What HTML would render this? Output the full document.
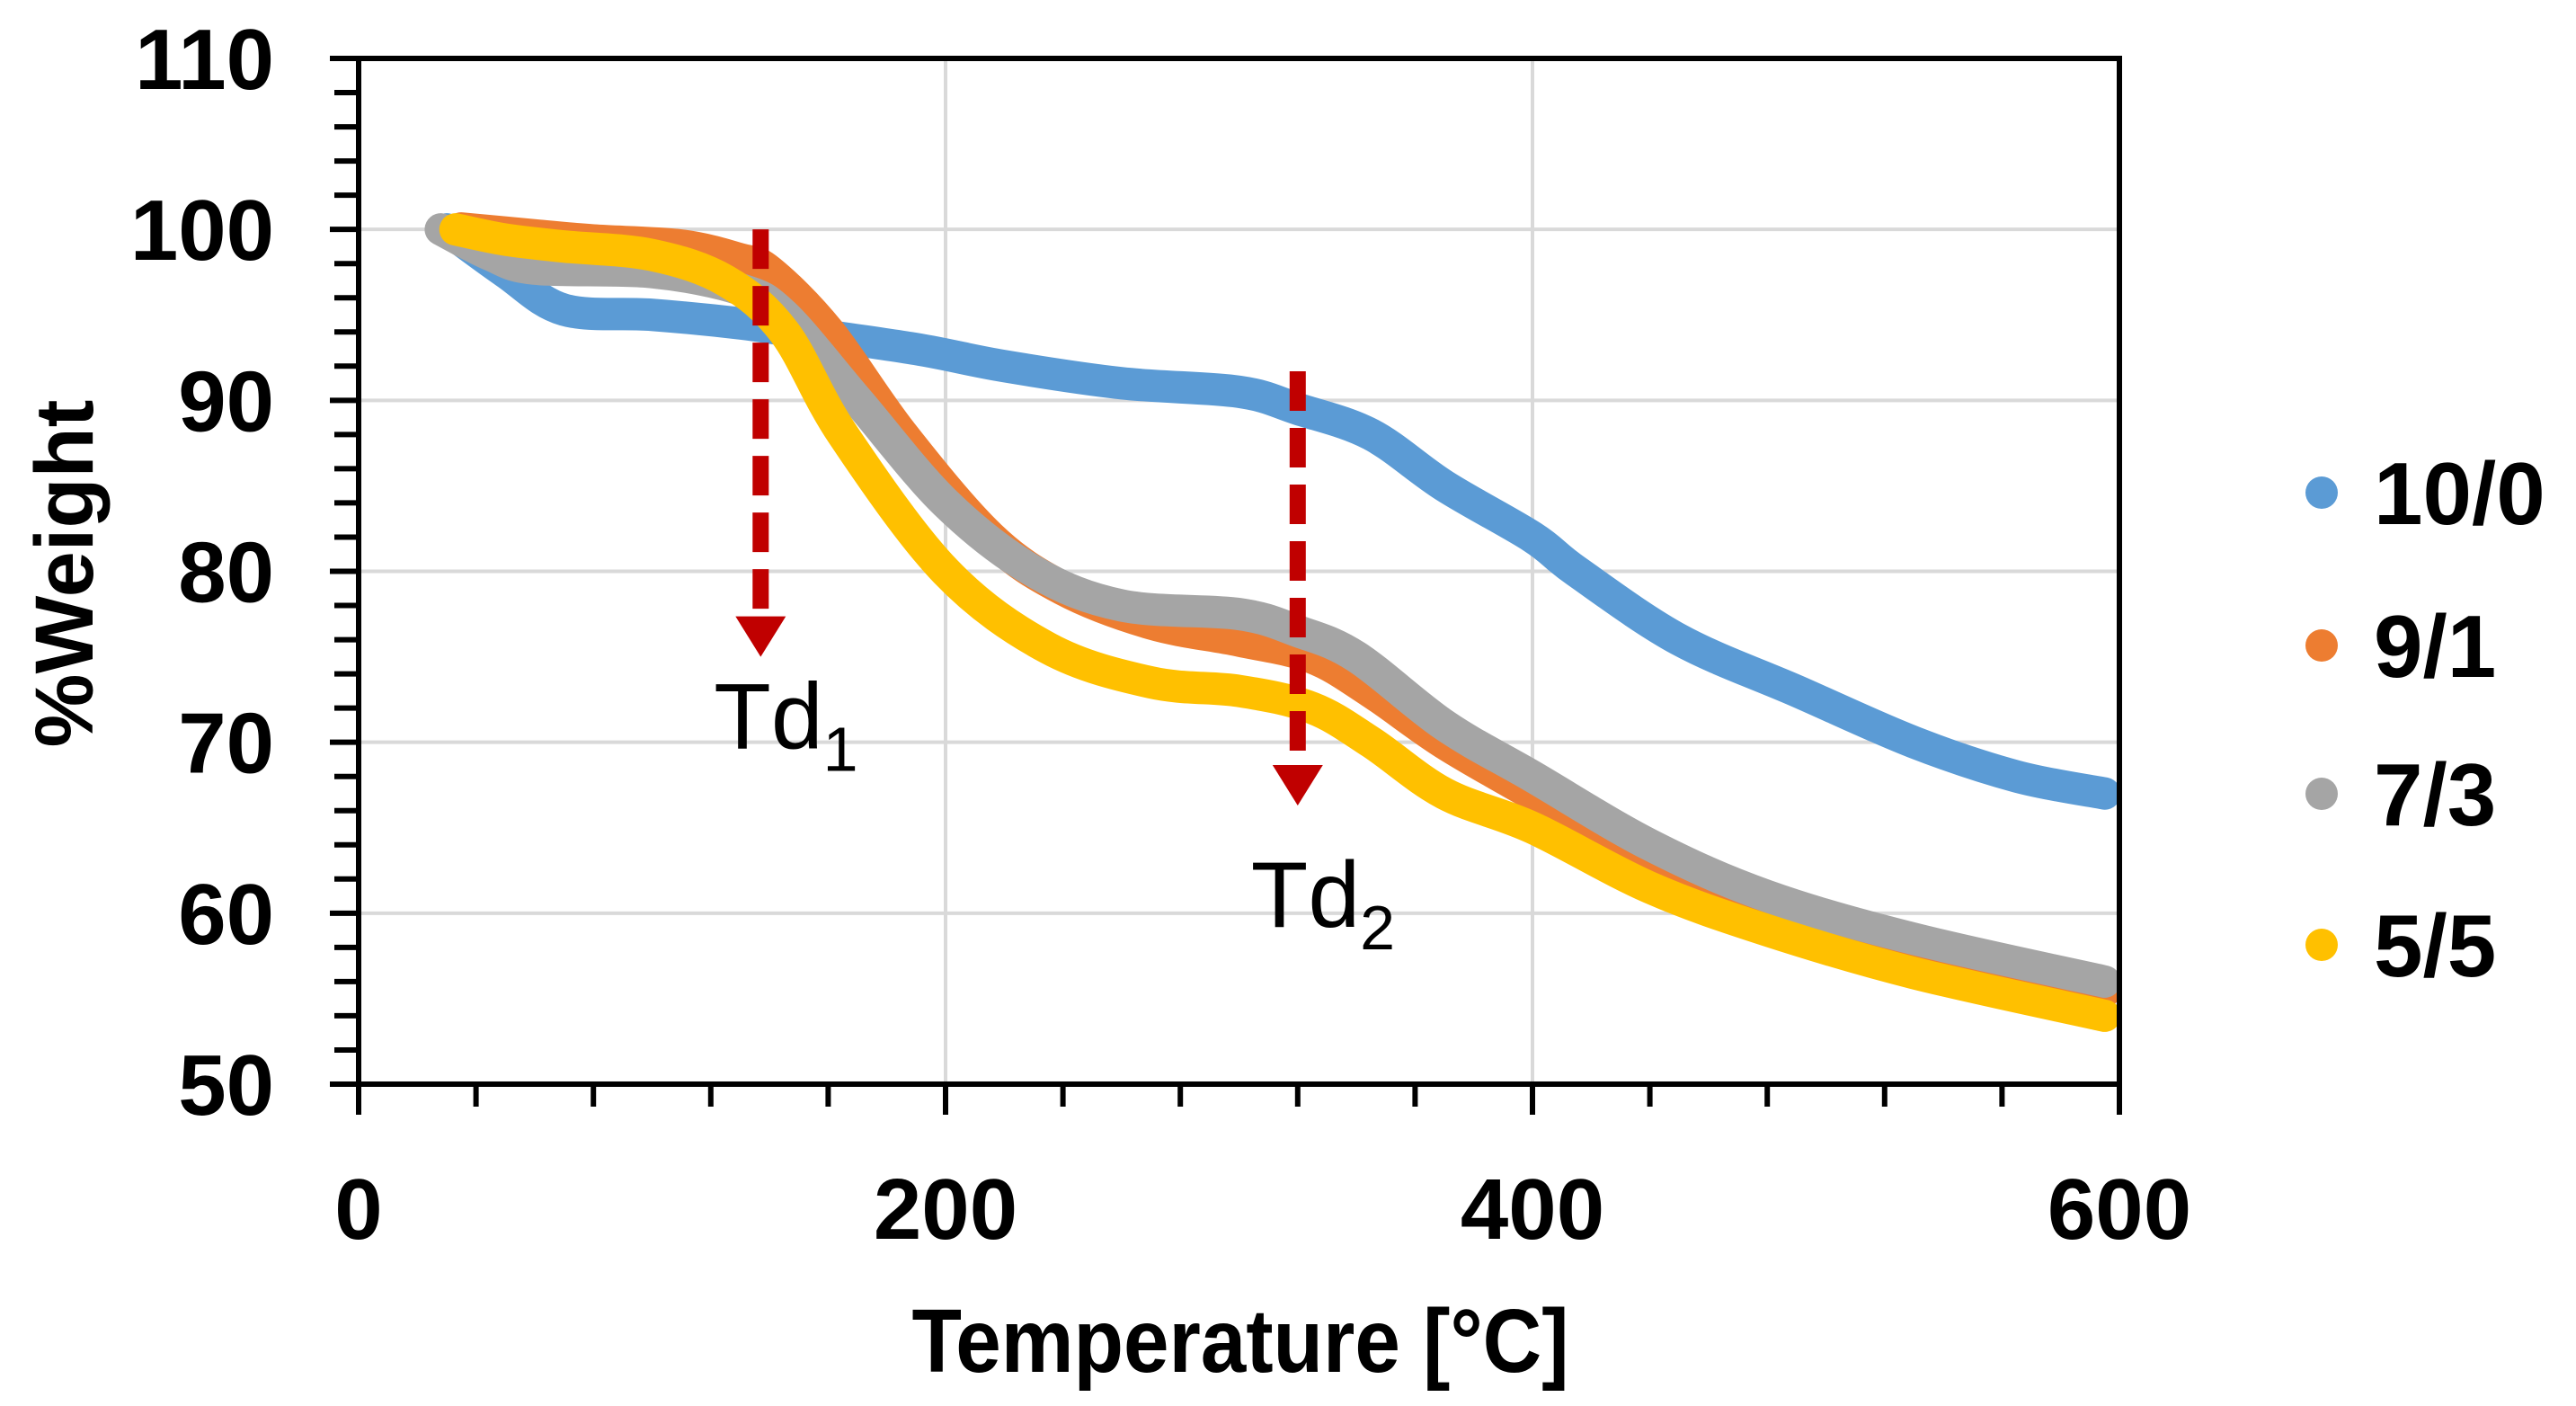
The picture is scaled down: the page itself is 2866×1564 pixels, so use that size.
<!DOCTYPE html>
<html><head><meta charset="utf-8"><style>
html,body{margin:0;padding:0;background:#fff;}
svg{display:block;font-family:"Liberation Sans",sans-serif;}
</style></head><body>
<svg id="chart" width="2866" height="1564" viewBox="0 0 2866 1564">
<g id="grid"></g>
<g id="series"></g>
<g id="axes"></g>
<g id="annot"></g>
<g id="legend"></g>
<text x="72" y="638" transform="rotate(-90 72 638)" text-anchor="middle" dominant-baseline="central" font-weight="bold" font-size="92" fill="#000">%Weight</text>
<text x="1380" y="1526" text-anchor="middle" font-weight="bold" font-size="100" textLength="731" lengthAdjust="spacingAndGlyphs" fill="#000">Temperature [°C]</text>
</svg>
<script>
const xTicks=[0,200,400,600];
const yTicks=[50,60,70,80,90,100,110];
const seriesNames=["10/0","9/1","7/3","5/5"];
const seriesColors=["#5b9bd5","#ed7d31","#a5a5a5","#ffc000"];
const t10_0=[30,50,70,100,130,150,190,220,260,300,320,345,370,400,415,450,490,530,565,595];
const w10_0=[100,97.5,95.3,95,94.5,94,93,92,91,90.5,89.5,88,85,82,80,76,73,70,68,67];
const t9_1=[35,60,80,110,130,140,160,185,215,240,270,300,325,345,370,400,440,480,530,595];
const w9_1=[100,99.6,99.3,99,98.2,97.5,94,88,82,79,77,76,75,73,70,67,63,60,57.5,55.5];
const t7_3=[28,45,60,100,130,145,170,200,230,260,300,320,340,370,400,440,480,530,595];
const w7_3=[100,98.5,97.7,97.5,96.5,95,90,84,80,78,77.5,76.5,75,71,68,64,61,58.5,56];
const t5_5=[33,50,70,100,125,145,165,200,235,270,300,325,345,370,400,440,480,530,595];
const w5_5=[100,99.4,99,98.5,97,94,88,80,75.5,73.5,73,72,70,67,65,61.5,59,56.5,54];
const arrowTemps=[137,320];
const arrowFrom=[100,91.7];
const arrowTo=[75,66.3];
const arrowLabels=["1","2"];

const NS="http://www.w3.org/2000/svg";
const X0=399,X1=2358,Y0=1206,Y1=65;
const sx=v=>X0+(v-0)/(600-0)*(X1-X0);
const sy=v=>Y0-(v-50)/(110-50)*(Y0-Y1);
function mk(tag,attrs,parent){const e=document.createElementNS(NS,tag);for(const k in attrs)e.setAttribute(k,attrs[k]);parent.appendChild(e);return e;}
const grid=document.getElementById('grid'),axes=document.getElementById('axes'),ser=document.getElementById('series'),ann=document.getElementById('annot'),leg=document.getElementById('legend');

yTicks.forEach(v=>{if(v===50||v===110)return;
 const l=mk('line',{x1:X0,x2:X1,y1:sy(v),y2:sy(v),stroke:'#d9d9d9','stroke-width':4},grid);
 
 });
xTicks.forEach(v=>{if(v===0||v===600)return;
 const l=mk('line',{x1:sx(v),x2:sx(v),y1:Y0,y2:Y1,stroke:'#d9d9d9','stroke-width':4},grid);
 
 });

const ts=[[t10_0,w10_0],[t9_1,w9_1],[t7_3,w7_3],[t5_5,w5_5]];
function smoothPath(xs,ys){let pts=xs.map((t,i)=>[sx(t),sy(ys[i])]);let d='M'+pts[0][0]+','+pts[0][1];
 for(let i=0;i<pts.length-1;i++){const p0=pts[Math.max(0,i-1)],p1=pts[i],p2=pts[i+1],p3=pts[Math.min(pts.length-1,i+2)];
  const c1=[p1[0]+(p2[0]-p0[0])/6,p1[1]+(p2[1]-p0[1])/6],c2=[p2[0]-(p3[0]-p1[0])/6,p2[1]-(p3[1]-p1[1])/6];
  d+=' C'+c1[0]+','+c1[1]+' '+c2[0]+','+c2[1]+' '+p2[0]+','+p2[1];}return d;}
ts.forEach((s,i)=>{
 const p=mk('path',{d:smoothPath(s[0],s[1]),fill:'none',stroke:seriesColors[i],'stroke-width':(i===1?38:36),'stroke-linecap':'round','stroke-linejoin':'round'},ser);
 
 });

const fr=mk('rect',{x:X0,y:Y1,width:X1-X0,height:Y0-Y1,fill:'none',stroke:'#000','stroke-width':6},axes);


for(let v=50;v<=110;v+=2){const major=(v%10===0);
 const t=mk('line',{x1:major?367:372,x2:X0,y1:sy(v),y2:sy(v),stroke:'#000','stroke-width':6},axes);
 
 }
for(let v=0;v<=600;v+=40){
 const t=mk('line',{x1:sx(v),x2:sx(v),y1:Y0,y2:(v%200===0)?1240:1231,stroke:'#000','stroke-width':6},axes);
 
 }
yTicks.forEach(v=>{const t=mk('text',{x:305,y:sy(v)+34,'text-anchor':'end','font-weight':'bold','font-size':96,fill:'#000'},axes);t.textContent=v;
 
 });
xTicks.forEach(v=>{const t=mk('text',{x:sx(v),y:1378,'text-anchor':'middle','font-weight':'bold','font-size':96,fill:'#000'},axes);t.textContent=v;
 
 });

const labelDy=[102,135];
arrowTemps.forEach((t,i)=>{const x=sx(t),ya=sy(arrowFrom[i]),yb=sy(arrowTo[i]);
 const l=mk('line',{x1:x,x2:x,y1:ya,y2:yb-45,stroke:'#c00000','stroke-width':18,'stroke-dasharray':'44 19'},ann);
 
 
 const h=mk('polygon',{points:(x-28)+','+(yb-45)+' '+(x+28)+','+(yb-45)+' '+x+','+yb,fill:'#c00000'},ann);
 
 
 const tx=mk('text',{x:x-52,y:yb+labelDy[i],'font-size':104,fill:'#000'},ann);
 tx.textContent='Td';
 const sb=mk('tspan',{'font-size':70,dy:25},tx);sb.textContent=arrowLabels[i];
 
 });

const legY=[548,718,883,1051];
seriesNames.forEach((n,i)=>{
 const c=mk('circle',{cx:2583,cy:legY[i],r:18,fill:seriesColors[i]},leg);
 
 
 const t=mk('text',{x:2641,y:legY[i]+35,'font-weight':'bold','font-size':98,fill:'#000'},leg);t.textContent=n;
 
 });
</script>
</body></html>
